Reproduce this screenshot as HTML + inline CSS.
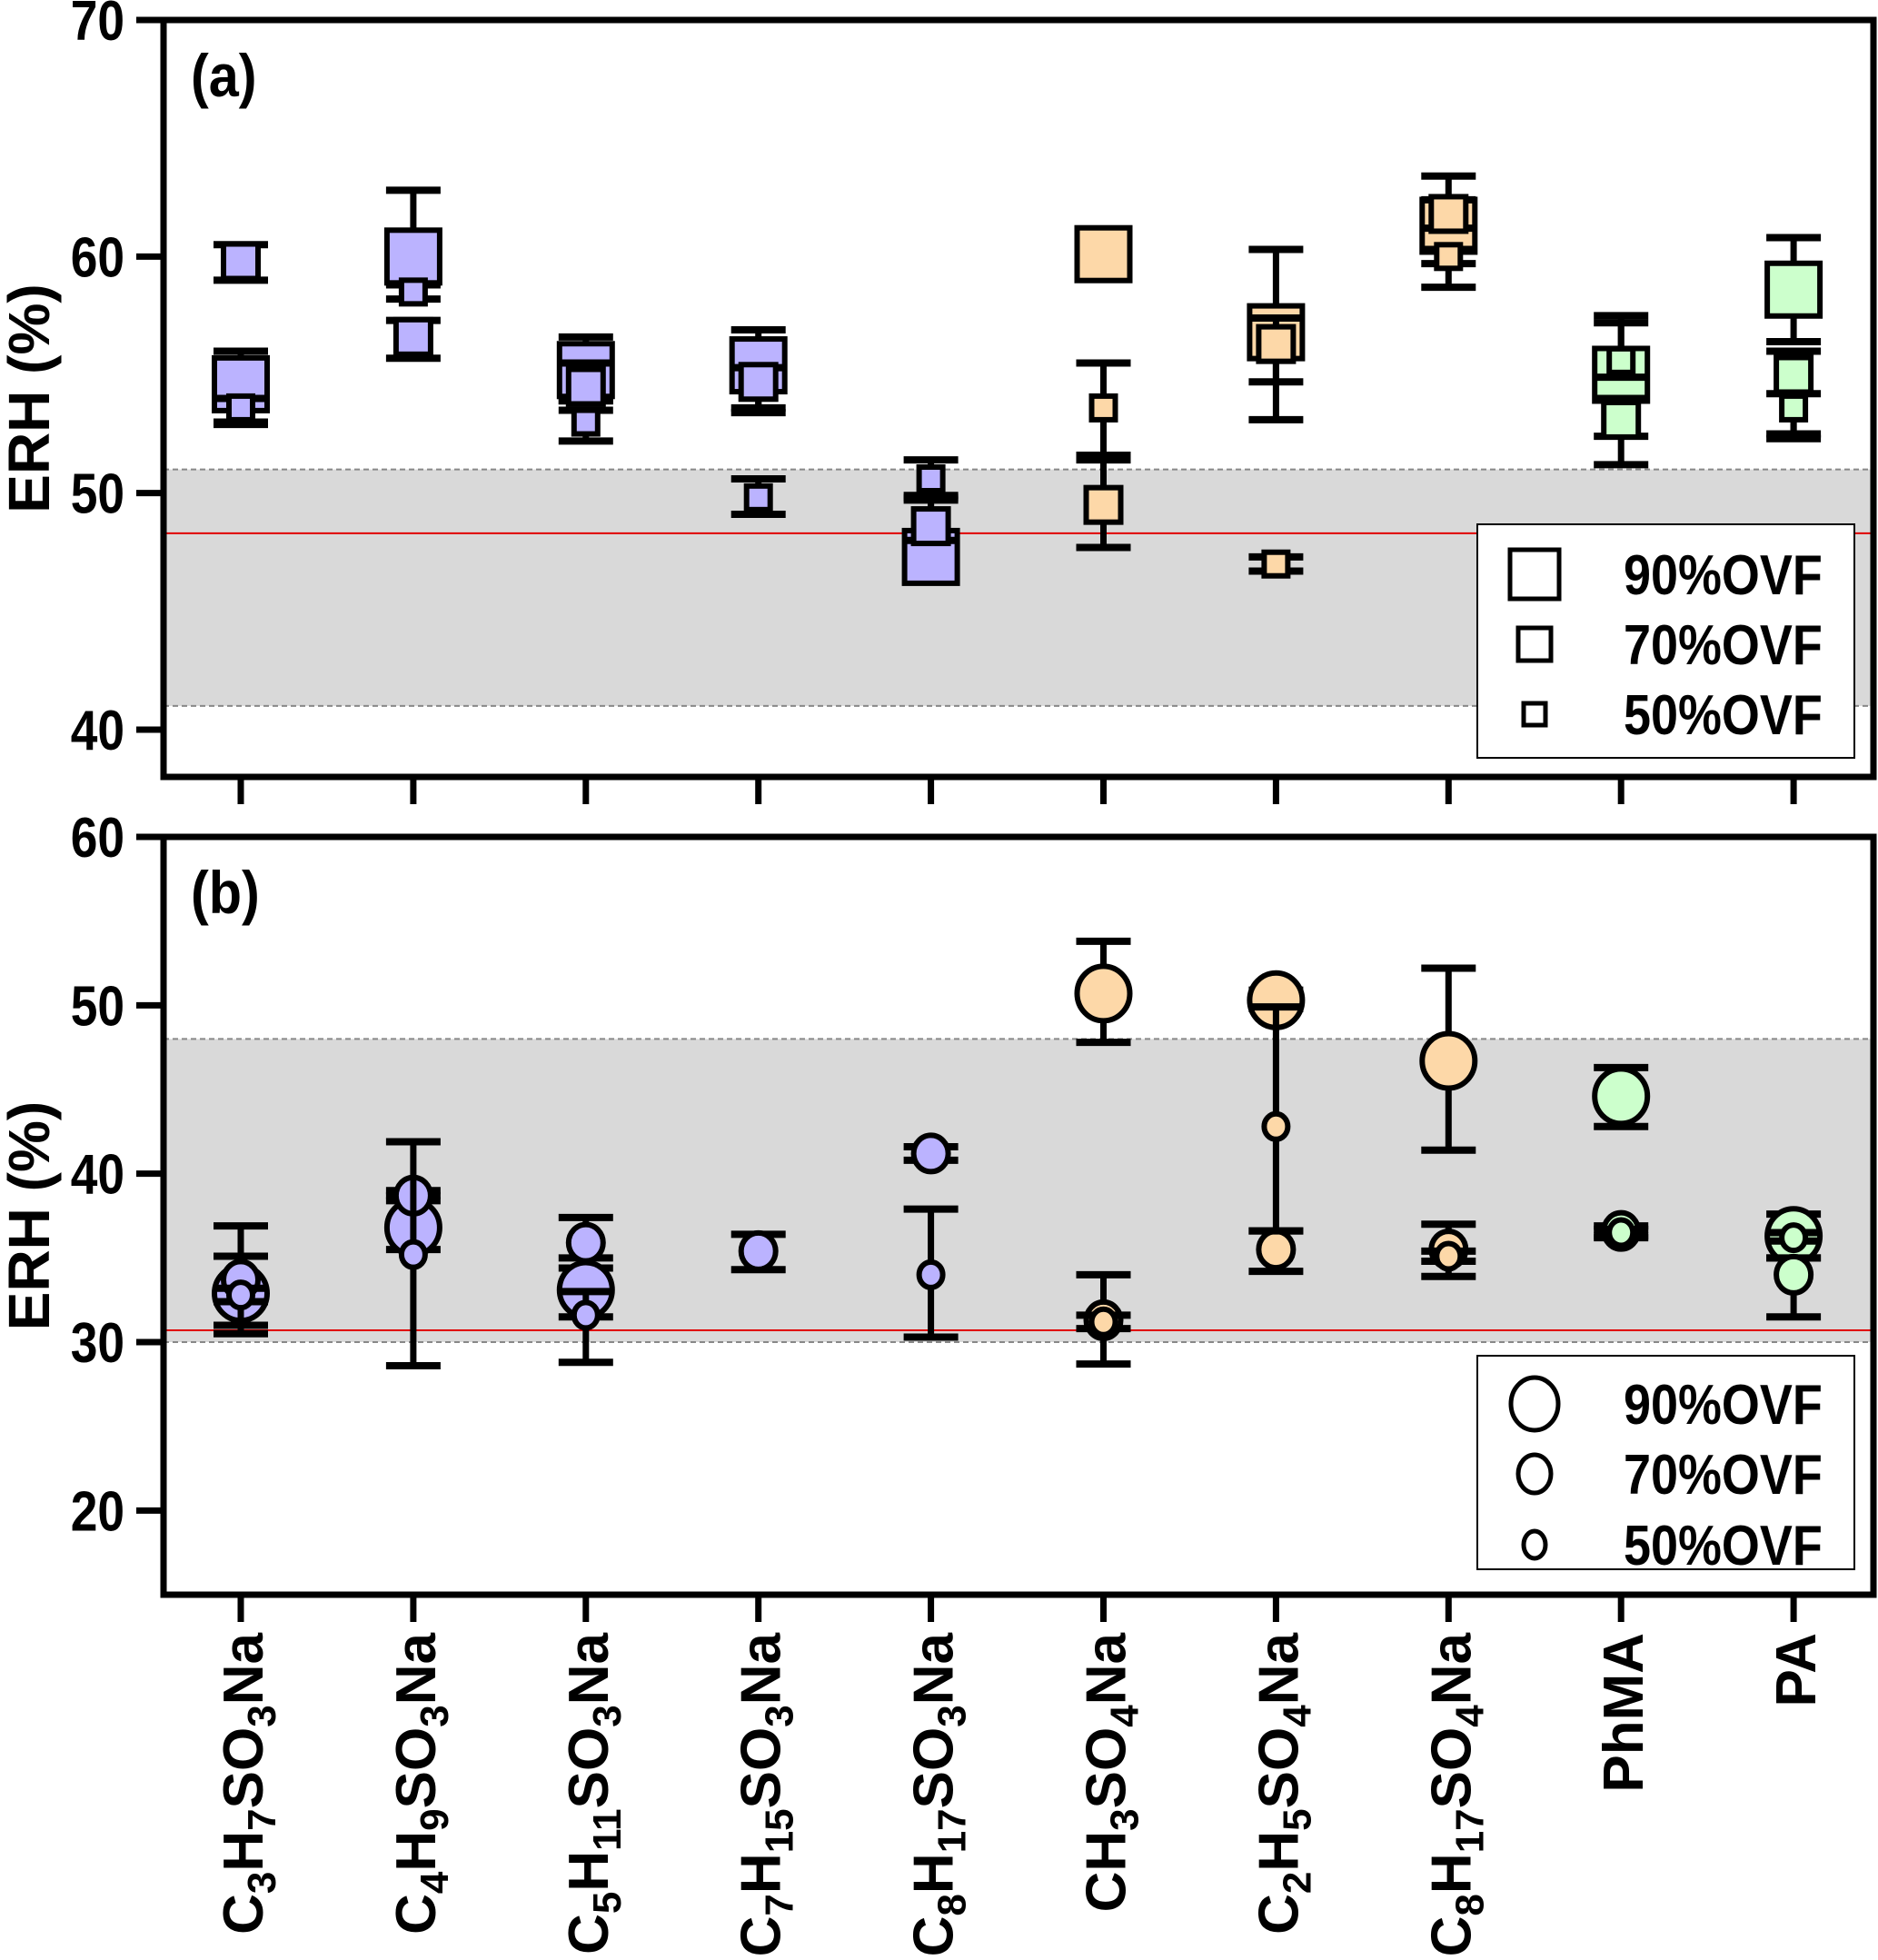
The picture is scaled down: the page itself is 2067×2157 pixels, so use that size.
<!DOCTYPE html>
<html><head><meta charset="utf-8"><style>
html,body{margin:0;padding:0;background:#fff;}
svg{display:block;font-family:"Liberation Sans",Arial,sans-serif;font-weight:bold;}
</style></head><body>
<svg id="chart" width="2067" height="2157" viewBox="0 0 2067 2157" xmlns="http://www.w3.org/2000/svg"></svg>
<script>
const categories = ["C3H7SO3Na","C4H9SO3Na","C5H11SO3Na","C7H15SO3Na","C8H17SO3Na","CH3SO4Na","C2H5SO4Na","C8H17SO4Na","PhMA","PA"];
const groupColors = ["#bbb3ff","#bbb3ff","#bbb3ff","#bbb3ff","#bbb3ff","#fdd8a8","#fdd8a8","#fdd8a8","#ccffcc","#ccffcc"];
const seriesNames = ["90%OVF","70%OVF","50%OVF"];
// Panel (a): squares. [mean, low, high] per category, null if absent
const a90 = [[54.6,53.0,56.0],[60.0,58.9,62.8],[55.2,53.9,56.6],[55.4,53.6,56.9],[47.3,46.6,49.7],[60.1,60.1,60.1],[56.8,53.1,60.3],[61.3,58.7,63.4],[55.0,51.2,57.5],[58.6,56.4,60.8]];
const a70 = [[59.8,59.0,60.5],[56.6,55.7,57.3],[54.5,53.9,55.5],[54.7,53.4,55.3],[48.6,48.0,49.9],[49.5,47.7,51.4],[56.3,54.7,57.4],[61.8,61.2,62.4],[53.1,52.4,54.0],[55.0,52.3,56.0]];
const a50 = [[53.6,52.9,54.0],[58.5,58.2,58.8],[53.0,52.2,53.5],[49.8,49.1,50.6],[50.6,49.8,51.4],[53.6,51.6,55.5],[47.0,46.7,47.3],[60.0,59.7,60.3],[55.6,54.9,57.2],[53.6,52.5,54.2]];
// Panel (b): circles
const b90 = [[32.9,30.5,35.1],[36.8,35.5,38.7],[33.1,31.5,34.4],null,null,[50.7,47.8,53.8],[50.3,49.8,50.9],[46.7,41.4,52.2],[44.6,42.8,46.3],[36.3,35.0,37.6]];
const b70 = [[33.7,31.0,36.9],[38.7,38.4,39.0],[35.9,35.0,37.4],[35.4,34.3,36.4],[41.2,40.8,41.6],[31.3,28.7,34.0],[35.5,34.2,36.6],[35.5,33.9,37.0],[36.6,36.2,36.9],[34.0,31.5,35.0]];
const b50 = [[32.8,32.4,33.2],[35.2,28.6,41.9],[31.6,28.8,33.0],null,[34.0,30.3,37.9],[31.2,30.8,31.6],[42.8,36.6,49.9],[35.1,34.8,35.4],[36.5,36.3,36.7],[36.2,36.0,36.5]];
const aTicks = [40,50,60,70];
const bTicks = [20,30,40,50,60];
const aBand = [41,51], aRed = 48.3;
const bBand = [30,48], bRed = 30.7;

const NS="http://www.w3.org/2000/svg";
const svg=document.getElementById('chart');
function el(tag,attrs,parent){const e=document.createElementNS(NS,tag);for(const k in attrs)e.setAttribute(k,attrs[k]);(parent||svg).appendChild(e);return e;}

const X0=180, X1=2062;
function xPos(i){return 265+189.9*i;}

function panel(cfg){
  const g=el('g',{});
  
  
  const y=v=>cfg.top+(cfg.vmax-v)*(cfg.bottom-cfg.top)/(cfg.vmax-cfg.vmin);
  const band=el('rect',{x:X0,y:y(cfg.band[1]),width:X1-X0,height:y(cfg.band[0])-y(cfg.band[1]),fill:'#d9d9d9'},g);
  
  
  for(const v of cfg.band){
    const l=el('line',{x1:X0,x2:X1,y1:y(v),y2:y(v),stroke:'#888','stroke-width':2,'stroke-dasharray':'6,4'},g);
    
    
  }
  const red=el('line',{x1:X0,x2:X1,y1:y(cfg.red),y2:y(cfg.red),stroke:'#e00000','stroke-width':2},g);
  
  
  const sizes=cfg.shape==='square'?[58,38,26]:[29,19,13];
  cfg.series.forEach((ser,si)=>{
    ser.forEach((d,i)=>{
      if(!d)return;
      const cx=xPos(i);
      const eg=el('g',{},g);
      
      
      if(d[2]-d[1]>0.01){
        el('line',{x1:cx,x2:cx,y1:y(d[1]),y2:y(d[2]),stroke:'#000','stroke-width':7},eg);
        el('line',{x1:cx-30,x2:cx+30,y1:y(d[1]),y2:y(d[1]),stroke:'#000','stroke-width':8},eg);
        el('line',{x1:cx-30,x2:cx+30,y1:y(d[2]),y2:y(d[2]),stroke:'#000','stroke-width':8},eg);
      }
      let m;
      if(cfg.shape==='square'){
        const s=sizes[si];
        m=el('rect',{x:cx-s/2,y:y(d[0])-s/2,width:s,height:s,fill:groupColors[i],stroke:'#000','stroke-width':6},g);
      }else{
        m=el('ellipse',{cx:cx,cy:y(d[0]),rx:sizes[si],ry:sizes[si]+1,fill:groupColors[i],stroke:'#000','stroke-width':6},g);
      }
      
      
    });
  });
  const fr=el('rect',{x:X0,y:cfg.top,width:X1-X0,height:cfg.bottom-cfg.top,fill:'none',stroke:'#000','stroke-width':7},g);
  
  
  cfg.ticks.forEach(t=>{
    el('line',{x1:150,x2:X0,y1:y(t),y2:y(t),stroke:'#000','stroke-width':7},g);
    const tx=el('text',{x:137,y:y(t)+22,'text-anchor':'end','font-size':62,transform:`translate(137 ${y(t)}) scale(0.86 1) translate(-137 ${-y(t)})`},g);
    tx.textContent=t;
    
    
  });
  categories.forEach((c,i)=>{
    el('line',{x1:xPos(i),x2:xPos(i),y1:cfg.bottom,y2:cfg.bottom+30,stroke:'#000','stroke-width':7},g);
  });
  const yt=el('text',{x:0,y:0,'text-anchor':'middle','font-size':64,transform:`translate(54 ${(cfg.top+cfg.bottom)/2}) rotate(-90)`},g);
  yt.textContent='ERH (%)';
  
  
  const pl=el('text',{x:210,y:cfg.top+84,'font-size':66,transform:`translate(210 0) scale(0.9 1) translate(-210 0)`},g);
  pl.textContent=cfg.label;
  
  
  const lg=el('g',{},g);
  
  
  el('rect',{x:1626,y:cfg.legY,width:415,height:cfg.legH,fill:'#fff',stroke:'#000','stroke-width':2},lg);
  seriesNames.forEach((n,si)=>{
    const ry=cfg.legRows[si];
    let m;
    if(cfg.shape==='square'){
      const s=[54,36,24][si];
      m=el('rect',{x:1689-s/2,y:ry-s/2,width:s,height:s,fill:'#fff',stroke:'#000','stroke-width':5},lg);
    }else{
      const r=[26,18,12][si];
      m=el('ellipse',{cx:1689,cy:ry,rx:r,ry:r+3,fill:'#fff',stroke:'#000','stroke-width':5},lg);
    }
    
    
    const t=el('text',{x:1787,y:ry+22,'font-size':62,transform:`translate(1787 0) scale(0.87 1) translate(-1787 0)`},lg);
    t.textContent=n;
    
    
  });
}

panel({name:'panel-a',label:'(a)',top:22,bottom:855,vmin:38,vmax:70,ticks:aTicks,band:aBand,red:aRed,shape:'square',series:[a90,a70,a50],legY:577,legH:257,legRows:[632,709,786]});
panel({name:'panel-b',label:'(b)',top:921,bottom:1755,vmin:15,vmax:60,ticks:bTicks,band:bBand,red:bRed,shape:'circle',series:[b90,b70,b50],legY:1492,legH:235,legRows:[1545,1622,1700]});

categories.forEach((c,i)=>{
  const bx=xPos(i)+24;
  const t=el('text',{x:0,y:0,'text-anchor':'end','font-size':62,transform:`translate(${bx} 1797) rotate(-90)`});
  
  
  const parts=c.match(/[A-Za-z]+|\d+/g);
  let sub=false;
  parts.forEach(p=>{
    const ts=el('tspan',{},t);
    if(/\d/.test(p)){ts.setAttribute('font-size',44);ts.setAttribute('dy',sub?0:14);sub=true;}
    else{ if(sub){ts.setAttribute('dy',-14);} sub=false;}
    ts.textContent=p;
  });
});
</script>
</body></html>
